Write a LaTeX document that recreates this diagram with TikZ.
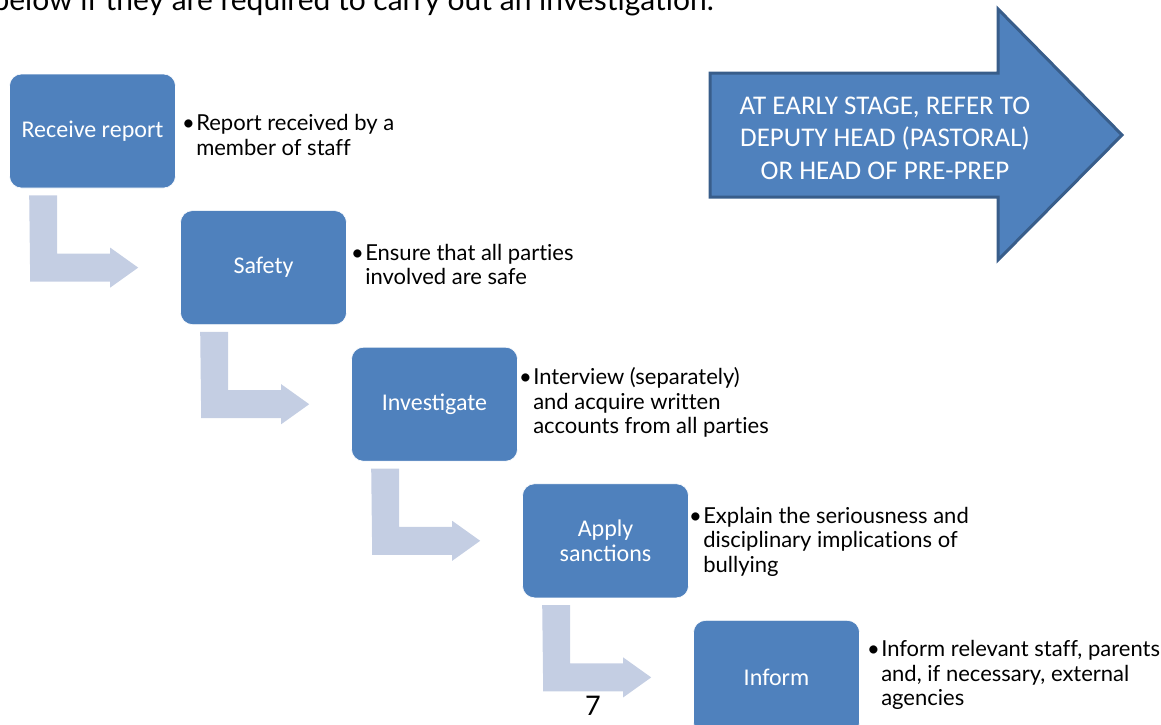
\documentclass[tikz,border=0pt]{standalone}
\usepackage{fontspec}
\setmainfont[Ligatures=NoCommon]{Lato}
\newfontfamily\boxfont{Carlito}
\usetikzlibrary{positioning,calc}
\definecolor{boxblue}{RGB}{79,129,189}
\definecolor{edgeblue}{RGB}{56,93,138}
\definecolor{bentblue}{RGB}{196,206,227}
\tikzset{
    stage/.style={rectangle, rounded corners=12pt, fill=boxblue, draw=white,
        line width=0.6pt, minimum width=166pt, minimum height=114pt,
        align=center, text=white, font=\boxfont\fontsize{24}{25}\selectfont},
    point/.style={anchor=west, align=left, inner sep=0pt,
        font=\fontsize{22}{24.5}\selectfont},
    bent/.style={fill=bentblue, draw=none}
}
% bent arrow from one stage down to the next
\newcommand{\bendarrow}[2]{%
    \fill[bent] ($(#1.south west)+(20,7)$) -- ++(28,0)
        |- ($(#2.west)+(-70,-14)$) -- ++(0,-6) -- ($(#2.west)+(-42,0)$)
        -- ($(#2.west)+(-70,20)$) -- ++(0,-6) -- ++(-80,0) -- cycle;}
\newcommand{\pt}[1]{\textbullet\hspace{1.5pt}\begin{tabular}[t]{@{}l@{}}#1\end{tabular}}

\begin{document}
\begin{tikzpicture}[x=1pt,y=-1pt]
\useasboundingbox (0,0) rectangle (1161,724);
\clip (0,0) rectangle (1161,724);

\node[anchor=base west, font=\fontsize{30}{34}\selectfont] (intro) at (-11,10)
    {below if they are required to carry out an investigation.};

\node[stage] (recv) at (92.5,131) {Receive report};
\node[stage, below right=22pt and 4.4pt of recv] (safety) {Safety};
\node[stage, below right=22pt and 4.4pt of safety] (invest) {Investigate};
\node[stage, below right=22pt and 4.4pt of invest] (sanct) {Apply\\sanctions};
\node[stage, below right=22pt and 4.4pt of sanct] (inform) {Inform};

\bendarrow{recv}{safety}
\bendarrow{safety}{invest}
\bendarrow{invest}{sanct}
\bendarrow{sanct}{inform}

\node[point, xshift=6pt, yshift=-7pt] (recvtxt) at (recv.east)
    {\pt{Report received by a\\member of staff}};
\node[point, xshift=4pt] (safetytxt) at (safety.east)
    {\pt{Ensure that all parties\\involved are safe}};
\node[point, xshift=1pt] (investtxt) at (invest.east)
    {\pt{Interview (separately)\\and acquire written\\accounts from all parties}};
\node[point, xshift=0pt, yshift=-2pt] (sancttxt) at (sanct.east)
    {\pt{Explain the seriousness and\\disciplinary implications of\\bullying}};
\node[point, xshift=7pt, yshift=1pt] (informtxt) at (inform.east)
    {\pt{Inform relevant staff, parents\\and, if necessary, external\\agencies}};

% big arrow to the right
\draw[fill=boxblue, draw=edgeblue, line width=3pt, line join=miter]
    (710,73) -- (998,73) -- (998,9) -- (1122,135) -- (998,260) -- (998,197)
    -- (710,197) -- cycle;
\node[align=center, text=white, font=\boxfont\fontsize{27}{32.5}\selectfont]
    (refer) at (885,138)
    {AT EARLY STAGE, REFER TO\\DEPUTY HEAD (PASTORAL)\\OR HEAD OF PRE-PREP};

\node[font=\fontsize{27}{30}\selectfont] (pagenum) at (593,706) {7};
\end{tikzpicture}
\end{document}
